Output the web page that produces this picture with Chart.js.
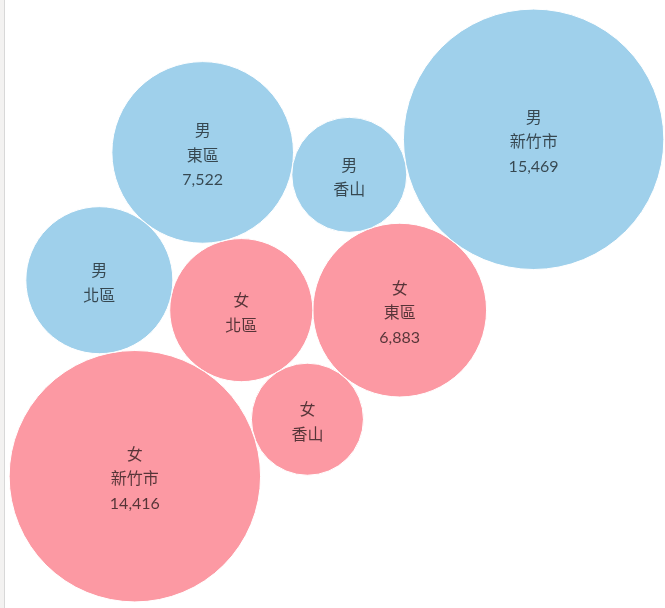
<!DOCTYPE html>
<html>
<head>
<meta charset="utf-8">
<script src="https://cdn.jsdelivr.net/npm/chart.js@4.4.1/dist/chart.umd.min.js"></script>
<style>
  html, body { margin: 0; padding: 0; background: #fff; }
  body { width: 665px; height: 608px; overflow: hidden; position: relative; }
  #strip { position: absolute; left: 0; top: 0; width: 4px; height: 608px; background: #f3f2f1; border-right: 1px solid #d8d8d8; }
  #wrap { position: absolute; left: 8px; top: 2px; width: 657px; height: 607px; }
</style>
</head>
<body>
<div id="strip"></div>
<div id="wrap"><canvas id="Chart"></canvas></div>
<script>
// data
const districts = ['東區', '北區', '香山', '新竹市'];
const maleValues = [7522, 4930, 3017, 15469];
const femaleValues = [6883, 4670, 2863, 14416];

// which bubbles touch which (packed layout recipe)
const packing = [
  ['女北區', null, null, 0],
  ['女東區', '女北區', null, 0],
  ['女香山', '女北區', '女東區', 1],
  ['女新竹市', '女北區', '女香山', 1],
  ['男北區', '女北區', '女新竹市', 1],
  ['男東區', '女北區', '男北區', 1],
  ['男香山', '男東區', '女東區', -1],
  ['男新竹市', '男香山', '女東區', -1]
];

const sizeScale = 1.047; // px radius per sqrt(value)
const W = 657, H = 607;

const bubbles = {};
districts.forEach((d, i) => {
  bubbles['男' + d] = { g: '男', d: d, v: maleValues[i] };
  bubbles['女' + d] = { g: '女', d: d, v: femaleValues[i] };
});
Object.values(bubbles).forEach(b => { b.r = sizeScale * Math.sqrt(b.v); });

function tangent(P, Q, r, side) {
  const dx = Q.x - P.x, dy = Q.y - P.y, d = Math.hypot(dx, dy);
  const ux = dx / d, uy = dy / d;
  const a = P.r + r, b = Q.r + r;
  const along = (d * d + a * a - b * b) / (2 * d);
  const h = Math.sqrt(Math.max(0, a * a - along * along));
  return { x: P.x + along * ux - side * h * uy, y: P.y + along * uy + side * h * ux };
}

packing.forEach(([id, pa, pb, side]) => {
  const c = bubbles[id];
  if (!pa) { c.x = 0; c.y = 0; }
  else if (!pb) { c.x = bubbles[pa].x + bubbles[pa].r + c.r; c.y = bubbles[pa].y; }
  else { const p = tangent(bubbles[pa], bubbles[pb], c.r, side); c.x = p.x; c.y = p.y; }
});

let minX = Infinity, maxX = -Infinity, minY = Infinity, maxY = -Infinity;
Object.values(bubbles).forEach(b => {
  minX = Math.min(minX, b.x - b.r); maxX = Math.max(maxX, b.x + b.r);
  minY = Math.min(minY, b.y - b.r); maxY = Math.max(maxY, b.y + b.r);
});
const cx = (minX + maxX) / 2, cy = (minY + maxY) / 2;

function points(g) {
  return districts.map(d => {
    const b = bubbles[g + d];
    return { x: b.x, y: b.y, r: b.r, g: g, d: d, v: b.v };
  });
}

const labelPlugin = {
  id: 'bubbleLabels',
  afterDatasetsDraw(chart) {
    const ctx = chart.ctx;
    ctx.save();
    ctx.textAlign = 'center';
    ctx.textBaseline = 'middle';
    ctx.fillStyle = 'rgba(0,0,0,0.66)';
    ctx.font = '16px Lato, "Noto Sans CJK TC", sans-serif';
    chart.data.datasets.forEach((ds, di) => {
      chart.getDatasetMeta(di).data.forEach((el, i) => {
        const p = ds.data[i];
        const lines = [p.g, p.d];
        if (p.r > 80) lines.push(p.v.toLocaleString('en-US'));
        const lh = 24.5;
        const y0 = el.y + 3 - (lines.length - 1) * lh / 2;
        lines.forEach((t, j) => ctx.fillText(t, el.x, y0 + j * lh));
      });
    });
    ctx.restore();
  }
};

const ctx = document.getElementById('Chart').getContext('2d');
const bubbleChart = new Chart(ctx, {
  type: 'bubble',
  data: {
    datasets: [
      { label: '男', data: points('男'), backgroundColor: '#9fd0eb', borderColor: '#ffffff', borderWidth: 1, hoverBorderWidth: 1, clip: false },
      { label: '女', data: points('女'), backgroundColor: '#fc99a3', borderColor: '#ffffff', borderWidth: 1, hoverBorderWidth: 1, clip: false }
    ]
  },
  options: {
    responsive: true,
    maintainAspectRatio: false,
    animation: false,
    layout: { padding: 0, autoPadding: false },
    scales: {
      x: { type: 'linear', display: false, min: cx - W / 2, max: cx + W / 2 },
      y: { type: 'linear', display: false, reverse: true, min: cy - H / 2, max: cy + H / 2 }
    },
    plugins: {
      legend: { display: false },
      tooltip: {
        callbacks: {
          label: function(item) {
            return item.raw.g + ' ' + item.raw.d + ': ' + item.raw.v.toLocaleString('en-US');
          }
        }
      }
    }
  },
  plugins: [labelPlugin]
});
</script>
</body>
</html>
